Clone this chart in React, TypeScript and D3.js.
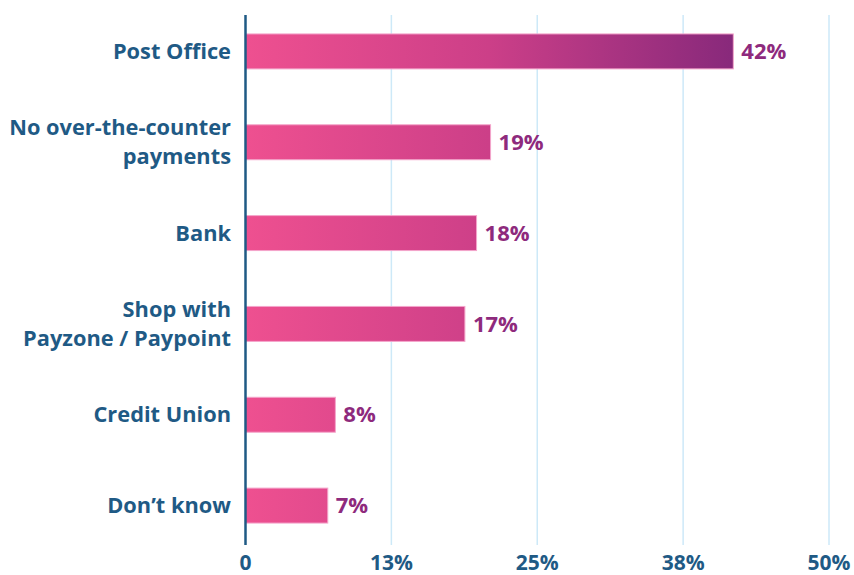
import React from "react";
import * as d3 from "d3";

const categories: string[][] = [
  ["Post Office"],
  ["No over-the-counter", "payments"],
  ["Bank"],
  ["Shop with", "Payzone / Paypoint"],
  ["Credit Union"],
  ["Don\u2019t know"],
];
const values: number[] = [41.8, 21.0, 19.8, 18.8, 7.7, 7.05];
const valueLabels: string[] = ["42%", "19%", "18%", "17%", "8%", "7%"];
const ticks: number[] = [0, 12.5, 25, 37.5, 50];
const tickLabels: string[] = ["0", "13%", "25%", "38%", "50%"];

const W = 854;
const H = 575;
const FONT = "'Open Sans', sans-serif";
const BLUE = "#1F5A85";
const PURPLE = "#8E2A7D";

export default function App() {
  const x = d3.scaleLinear().domain([0, 50]).range([245.5, 829]);
  const y = d3
    .scaleBand<number>()
    .domain(d3.range(categories.length))
    .range([6, 551])
    .paddingInner(0.615)
    .paddingOuter(0.3075);
  const gridTop = 15;
  const gridBottom = 545;
  return (
    <svg
      width={W}
      height={H}
      style={{ position: "absolute", left: 0, top: 0 }}
      fontFamily={FONT}
    >
      <defs>
        <linearGradient
          id="barGrad"
          gradientUnits="userSpaceOnUse"
          x1={x(0)}
          x2={x(41.8)}
          y1={0}
          y2={0}
        >
          <stop offset="0%" stopColor="#EE5090" />
          <stop offset="50%" stopColor="#CC3F88" />
          <stop offset="100%" stopColor="#88297B" />
        </linearGradient>
      </defs>
      {ticks.slice(1).map((t) => (
        <line
          key={t}
          x1={x(t)}
          x2={x(t)}
          y1={gridTop}
          y2={gridBottom}
          stroke="#CDE9F8"
          strokeWidth={1.5}
        />
      ))}
      {values.map((v, i) => {
        const y0 = y(i)!;
        const bh = y.bandwidth();
        const cy = y0 + bh / 2;
        const lines = categories[i];
        return (
          <g key={i}>
            <rect
              x={x(0)}
              y={y0}
              width={x(v) - x(0)}
              height={bh}
              fill="url(#barGrad)"
              stroke="#F4A6CB"
              strokeWidth={1}
            />
            <text
              x={x(v) + 8}
              y={cy}
              dy="0.35em"
              fill={PURPLE}
              fontWeight={700}
              fontSize={22}
            >
              {valueLabels[i]}
            </text>
            {lines.map((l, j) => (
              <text
                key={j}
                x={231}
                y={cy + (j - (lines.length - 1) / 2) * 29}
                dy="0.35em"
                textAnchor="end"
                fill={BLUE}
                fontWeight={700}
                fontSize={21.8}
              >
                {l}
              </text>
            ))}
          </g>
        );
      })}
      <line
        x1={x(0)}
        x2={x(0)}
        y1={gridTop}
        y2={gridBottom}
        stroke={BLUE}
        strokeWidth={2.5}
      />
      {ticks.map((t, i) => (
        <text
          key={t}
          x={x(t)}
          y={563}
          dy="0.35em"
          textAnchor="middle"
          fill={BLUE}
          fontWeight={700}
          fontSize={21}
        >
          {tickLabels[i]}
        </text>
      ))}
    </svg>
  );
}
